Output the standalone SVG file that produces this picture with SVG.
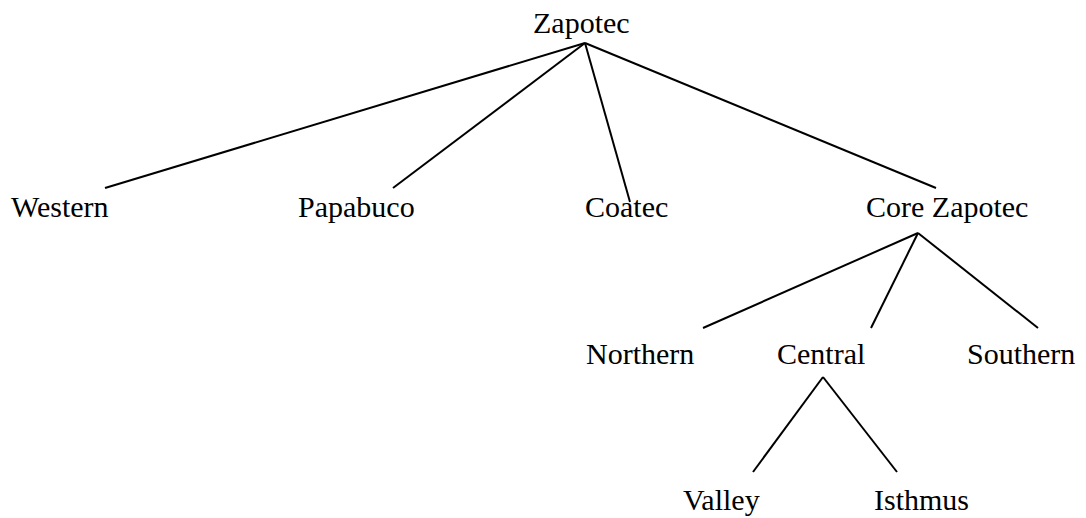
<svg xmlns="http://www.w3.org/2000/svg" width="1086" height="518" viewBox="0 0 1086 518">
<style>
text{font-family:"Liberation Serif","Times New Roman",serif;font-size:30px;fill:#000}
.c line{stroke:#000;stroke-width:2;stroke-linecap:butt}
</style>
<rect width="1086" height="518" fill="#fff"/>
<g class="c" id="connectors">
<line x1="585" y1="43" x2="105" y2="188"/>
<line x1="585" y1="43" x2="393" y2="188"/>
<line x1="585" y1="43" x2="630" y2="202"/>
<line x1="585" y1="43" x2="936" y2="188"/>
<line x1="918" y1="233" x2="703" y2="328"/>
<line x1="918" y1="233" x2="871" y2="328"/>
<line x1="918" y1="233" x2="1038" y2="328"/>
<line x1="823" y1="377" x2="753" y2="472"/>
<line x1="823" y1="377" x2="897" y2="472"/>
</g>
<g id="zapotec"><text x="533" y="33">Zapotec</text></g>
<g id="western"><text x="11" y="217">Western</text></g>
<g id="papabuco"><text x="298" y="217">Papabuco</text></g>
<g id="coatec"><text x="585" y="217">Coatec</text></g>
<g id="core-zapotec"><text x="866" y="217">Core Zapotec</text></g>
<g id="northern"><text x="586" y="364">Northern</text></g>
<g id="central"><text x="777" y="364">Central</text></g>
<g id="southern"><text x="967" y="364">Southern</text></g>
<g id="valley"><text x="683" y="510">Valley</text></g>
<g id="isthmus"><text x="874" y="510">Isthmus</text></g>
</svg>
